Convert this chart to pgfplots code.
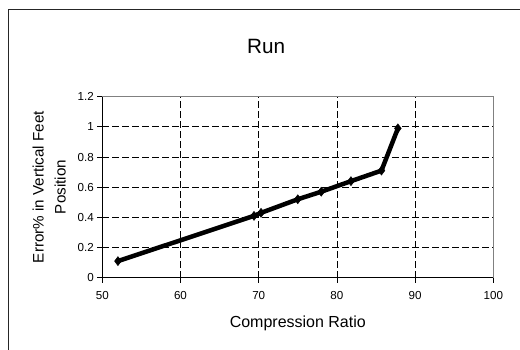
\documentclass[border=0pt]{standalone}
\usepackage{pgfplots}
\pgfplotsset{compat=1.18}
\usepackage{fontspec}
\setmainfont{Liberation Sans}
\begin{document}
\begin{tikzpicture}[x=1pt,y=1pt]
\useasboundingbox (0,0) rectangle (520,350);
\draw[line width=1pt, black!85] (8,-10) -- (8,340) -- (530,340);
\begin{axis}[
  at={(102.3pt,72.3pt)}, anchor=south west,
  scale only axis, width=391pt, height=181pt,
  xmin=50, xmax=100, ymin=0, ymax=1.2,
  xtick={50,60,...,100}, ytick={0,0.2,...,1.2},
  yticklabels={0,0.2,0.4,0.6,0.8,1,1.2},
  /pgf/number format/assume math mode=true,
  tick label style={font=\fontsize{11.6}{13}\selectfont},
  xticklabel style={yshift=-5pt},
  tick align=outside, major tick length=5pt,
  xtick pos=left, ytick pos=left,
  tick style={black, line width=0.8pt},
  axis line style={draw=black!50, line width=1.6pt},
  grid=major,
  major grid style={black, line width=0.8pt, dash pattern=on 6.5pt off 3.5pt},
  title={Run},
  title style={font=\fontsize{20.7}{24}\selectfont, at={(axis description cs:0.419,1.245)}, anchor=center},
  xlabel={Compression Ratio},
  xlabel style={font=\fontsize{16}{19}\selectfont, at={(axis description cs:0.5,-0.25)}, anchor=center},
  ylabel={Error\% in Vertical Feet\\Position},
  ylabel style={font=\fontsize{15.2}{22}\selectfont, align=center, at={(axis description cs:-0.136,0.501)}, anchor=center, rotate=0},
  clip=false,
]
\addplot[black, line width=4.5pt, mark=diamond*, mark size=4.5pt, mark options={line width=0.5pt}] coordinates {
(52,0.11) (69.4,0.41) (70.3,0.43) (75,0.52) (78,0.57) (81.8,0.64) (85.7,0.71) (87.8,0.99)
};
\draw[black, line width=1pt] (rel axis cs:0,1) -- (rel axis cs:0,0) -- (rel axis cs:1,0);
\end{axis}
\end{tikzpicture}
\end{document}
